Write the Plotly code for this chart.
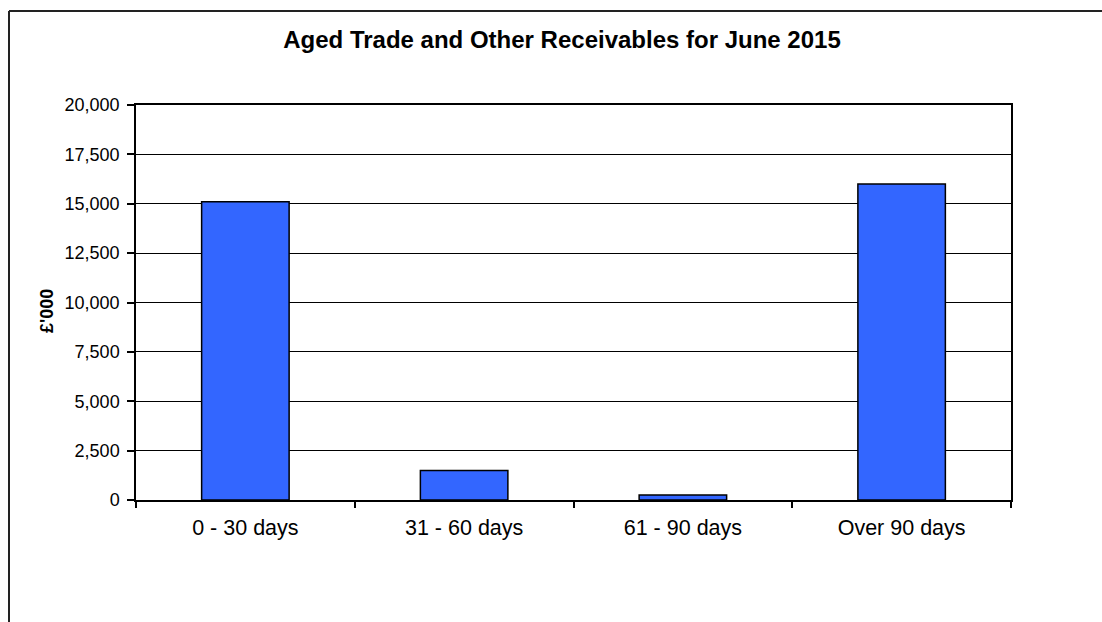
import plotly.graph_objects as go

categories = ["0 - 30 days", "31 - 60 days", "61 - 90 days", "Over 90 days"]
values = [15100, 1500, 250, 16000]
y_ticks = [0, 2500, 5000, 7500, 10000, 12500, 15000, 17500, 20000]
y_tick_labels = ["0", "2,500", "5,000", "7,500", "10,000", "12,500", "15,000", "17,500", "20,000"]

W, H = 1102, 622
L, R, T, B = 136, 91, 105, 122
pw, ph = W - L - R, H - T - B

def px(x):
    return (x - L) / pw

def py(y):
    return (H - B - y) / ph

fig = go.Figure(go.Bar(
    x=categories, y=values,
    marker=dict(color="#3366FF", line=dict(color="black", width=1.5)),
    width=0.4,
))

fig.update_layout(
    width=W, height=H,
    margin=dict(l=L, r=R, t=T, b=B),
    paper_bgcolor="white", plot_bgcolor="white",
    font=dict(family="Liberation Sans, Arial", color="black"),
    showlegend=False,
    title=dict(text="<b>Aged Trade and Other Receivables for June 2015</b>",
               x=(562) / W, xanchor="center", y=1 - 40 / H, yanchor="middle",
               font=dict(size=24, color="black")),
    xaxis=dict(
        showline=True, linecolor="black", linewidth=1.5, mirror=True,
        ticks="outside", ticklen=6, tickwidth=1.5, tickcolor="black",
        tickson="boundaries", showgrid=False, ticklabelstandoff=7,
        tickfont=dict(size=21.5), range=[-0.5, 3.5],
    ),
    yaxis=dict(
        range=[0, 20000], tickvals=y_ticks, ticktext=y_tick_labels,
        showline=True, linecolor="black", linewidth=1.5, mirror=True,
        ticks="outside", ticklen=7, tickwidth=1.5, tickcolor="black",
        showgrid=True, gridcolor="black", gridwidth=1,
        tickfont=dict(size=18), zeroline=False, ticklabelstandoff=4,
    ),
    annotations=[dict(
        text="<b>£'000</b>", xref="paper", yref="paper",
        x=px(47), y=py(311), xanchor="center", yanchor="middle",
        textangle=-90, showarrow=False, font=dict(size=18, color="black"),
    )],
    shapes=[
        dict(type="line", xref="paper", yref="paper",
             x0=px(9), x1=px(9), y0=py(11), y1=py(640),
             line=dict(color="#222", width=2)),
        dict(type="line", xref="paper", yref="paper",
             x0=px(9), x1=px(1120), y0=py(11), y1=py(11),
             line=dict(color="#222", width=2)),
    ],
)

fig.write_html("out.html")
